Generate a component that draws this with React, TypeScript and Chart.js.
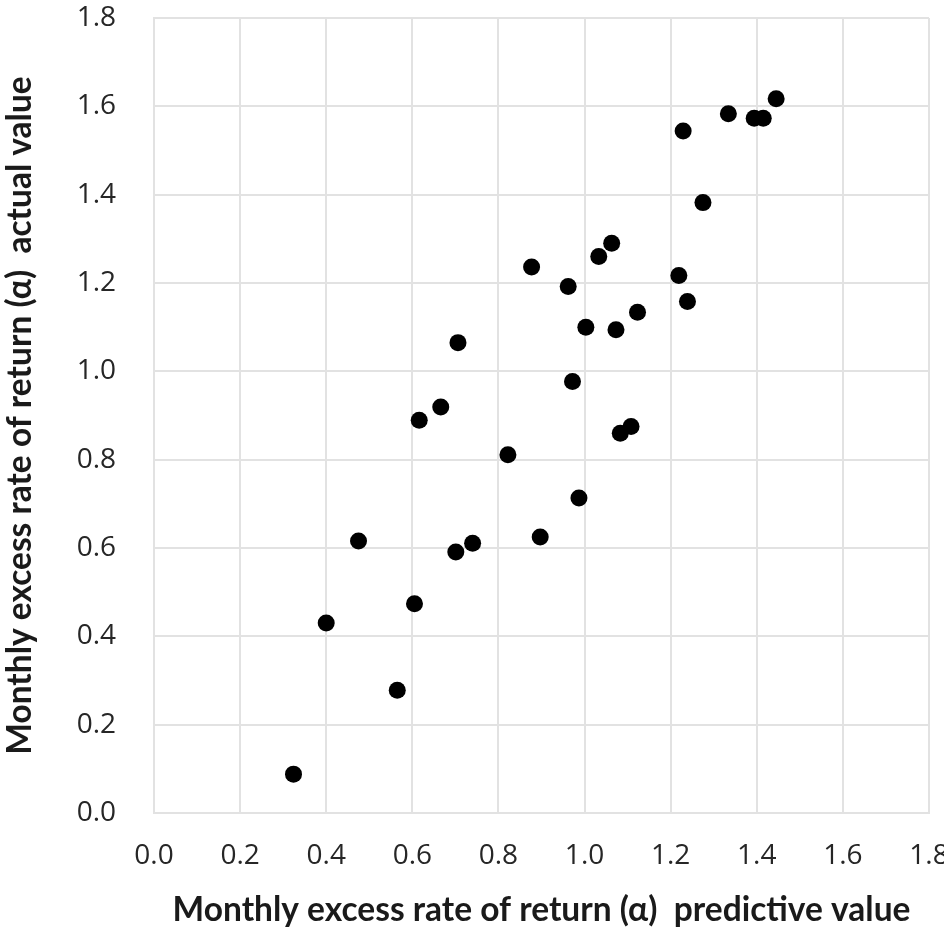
import React, { useEffect, useRef } from "react";
import { Chart, registerables } from "chart.js";

Chart.register(...registerables);

const predictedValues = [
  0.324, 0.4, 0.475, 0.565, 0.605, 0.701, 0.74, 0.822, 0.897, 0.987, 0.616,
  0.666, 0.706, 0.972, 1.083, 1.108, 1.003, 1.073, 1.123, 0.962, 0.877, 1.033,
  1.063, 1.219, 1.239, 1.275, 1.229, 1.334, 1.394, 1.415, 1.445,
];
const actualValues = [
  0.088, 0.43, 0.616, 0.278, 0.474, 0.591, 0.611, 0.811, 0.625, 0.713, 0.889,
  0.919, 1.065, 0.977, 0.86, 0.875, 1.1, 1.094, 1.134, 1.192, 1.236, 1.26,
  1.29, 1.217, 1.158, 1.382, 1.544, 1.583, 1.573, 1.573, 1.617,
];
const axisMin = 0;
const axisMax = 1.8;
const axisStep = 0.2;
const xTitle = "Monthly excess rate of return (\u03b1)  predictive value";
const yTitle = "Monthly excess rate of return (\u03b1)  actual value";

export default function App() {
  const canvasRef = useRef<HTMLCanvasElement | null>(null);

  useEffect(() => {
    const canvas = canvasRef.current;
    if (!canvas) return;
    const points = predictedValues.map((x, i) => ({ x, y: actualValues[i] }));
    const gridColor = "#e2e2e2";
    const tickFont = { family: "'Open Sans', sans-serif", size: 28, lineHeight: 1.2 };
    const titleFont = { family: "Lato, sans-serif", size: 33.5, weight: "bold" as const, lineHeight: 1.2 };
    const chart = new Chart(canvas, {
      type: "scatter",
      data: {
        datasets: [
          {
            data: points,
            backgroundColor: "#000000",
            borderColor: "#000000",
            pointRadius: 8.5,
            pointHoverRadius: 8.5,
            borderWidth: 0,
          },
        ],
      },
      options: {
        responsive: false,
        animation: false,
        devicePixelRatio: 1,
        layout: { padding: { top: 18, right: 15, bottom: 0, left: 0 } },
        plugins: { legend: { display: false }, tooltip: { enabled: false } },
        scales: {
          x: {
            type: "linear",
            min: axisMin,
            max: axisMax,
            ticks: {
              stepSize: axisStep,
              padding: 26,
              color: "#262626",
              font: tickFont,
              callback: (v: any) => Number(v).toFixed(1),
            },
            grid: { color: gridColor, lineWidth: 2, drawTicks: false },
            border: { color: gridColor, width: 2 },
            title: {
              display: true,
              text: xTitle,
              color: "#1a1a1a",
              font: titleFont,
              padding: { top: 0, bottom: 2 },
            },
            afterFit: (scale: any) => {
              scale.height = 119;
              scale.paddingLeft = 0;
              scale.paddingRight = 0;
            },
          },
          y: {
            type: "linear",
            min: axisMin,
            max: axisMax,
            ticks: {
              stepSize: axisStep,
              padding: 38,
              color: "#262626",
              font: tickFont,
              callback: (v: any) => Number(v).toFixed(1),
            },
            grid: { color: gridColor, lineWidth: 2, drawTicks: false },
            border: { color: gridColor, width: 2 },
            title: {
              display: true,
              text: yTitle,
              color: "#1a1a1a",
              font: titleFont,
              padding: { top: 0, bottom: 0 },
            },
            afterFit: (scale: any) => {
              scale.width = 154;
              scale.paddingTop = 0;
              scale.paddingBottom = 0;
            },
          },
        },
      },
    });
    return () => chart.destroy();
  }, []);

  return (
    <div style={{ position: "absolute", left: 0, top: 0, width: 944, height: 932, background: "#ffffff" }}>
      <canvas ref={canvasRef} width={944} height={932} style={{ display: "block" }} />
    </div>
  );
}
